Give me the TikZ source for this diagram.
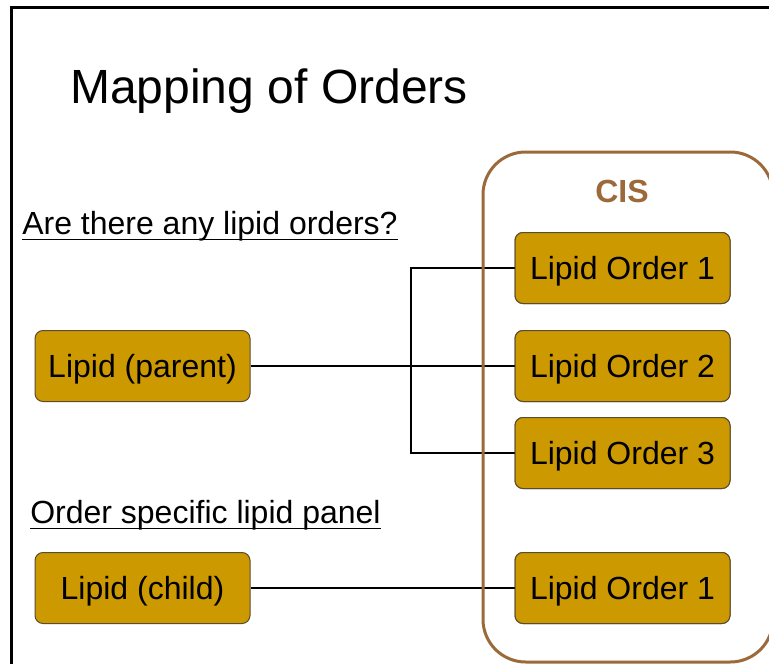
\documentclass[tikz,border=0pt]{standalone}
\usepackage{fontspec}
\setmainfont{Liberation Sans}
\definecolor{gold}{HTML}{CC9900}
\definecolor{cisbrown}{HTML}{9C6A3A}
\definecolor{boxedge}{HTML}{5A4C2E}
\newcommand{\myul}[1]{\setbox0\hbox{#1}\rlap{\rule[-4.5pt]{\wd0}{0.9pt}}\box0}
\tikzset{
  lipidbox/.style={draw=boxedge, line width=0.75pt, fill=gold, rounded corners=6pt,
    minimum width=161.25pt, minimum height=53.25pt, inner sep=0pt,
    font=\fontsize{24}{28}\selectfont, text height=17.2pt, text depth=0pt},
  conn/.style={draw=black, line width=0.9pt},
  heading/.style={anchor=base west, inner sep=0pt, font=\fontsize{24}{28}\selectfont}
}
\begin{document}
\begin{tikzpicture}[x=0.75pt, y=-0.75pt]
\useasboundingbox (0,0) rectangle (769,664);
\clip (0,0) rectangle (769,664);
\fill[white] (0,0) rectangle (769,664);
% frame
\draw[line width=2.25pt] (11,700) -- (11,7) -- (800,7);
% title
\node[anchor=base west, inner sep=0pt, font=\fontsize{36}{42}\selectfont] (title) at (70,103) {Mapping of Orders};
% headings
\node[heading] (q1) at (22,234) {\myul{Are there any lipid orders?}};
\node[heading] (q2) at (30,523) {\myul{Order specific lipid panel}};
% boxes
\node[lipidbox] (parent) at (142.5,366) {Lipid (parent)};
\node[lipidbox] (child) at (142.5,588) {Lipid (child)};
\node[lipidbox] (o1) at (622.5,268) {Lipid Order 1};
\node[lipidbox] (o2) at (622.5,366) {Lipid Order 2};
\node[lipidbox] (o3) at (622.5,453) {Lipid Order 3};
\node[lipidbox] (o4) at (622.5,588) {Lipid Order 1};
\coordinate (jt) at (411,268);
\coordinate (jb) at (411,453);
% connectors
\draw[conn] (parent.east) -- (o2.west);
\draw[conn] (o1.west) -- (jt) -- (jb) -- (o3.west);
\draw[conn] (child.east) -- (o4.west);
% CIS container
\draw[cisbrown, line width=2.25pt, rounded corners=32pt] (483,152) rectangle (773,662);
\node[anchor=base, inner sep=0pt, text=cisbrown, font=\fontsize{24}{28}\selectfont\bfseries] (cis) at (622,202) {CIS};
% redraw boxes on top
\node[lipidbox] at (o1) {Lipid Order 1};
\node[lipidbox] at (o2) {Lipid Order 2};
\node[lipidbox] at (o3) {Lipid Order 3};
\node[lipidbox] at (o4) {Lipid Order 1};
\end{tikzpicture}
\end{document}
